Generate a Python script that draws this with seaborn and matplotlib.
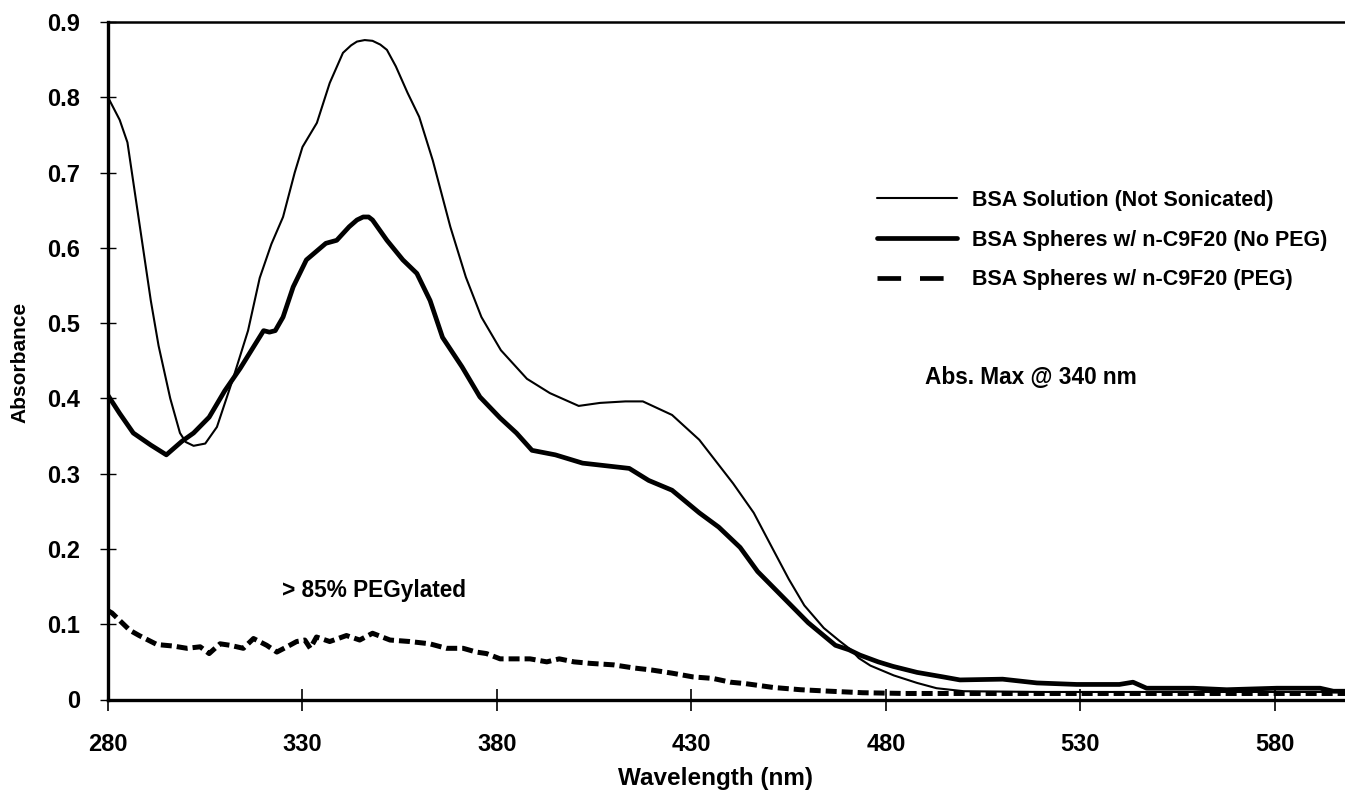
import matplotlib
matplotlib.use("Agg")
import matplotlib.pyplot as plt
from matplotlib.lines import Line2D
import seaborn as sns
import pandas as pd

# ---------------- data ----------------
wl_solution = [280, 283, 285, 287, 289, 291, 293, 296, 298.5, 300, 302, 305, 308, 312, 316, 319,
               322, 325, 328, 330, 333.7, 337, 340.4, 342.5, 344, 346, 348, 350, 351.7, 354, 357,
               360, 363.5, 368, 372, 376, 381, 387.7, 393.6, 401, 406.5, 413, 417.5, 425, 432,
               440.7, 446, 451, 455, 459, 464, 468, 471, 473, 476, 482, 488, 493, 500, 520, 540,
               560, 580, 598]
abs_solution = [0.80, 0.77, 0.74, 0.67, 0.60, 0.53, 0.47, 0.40, 0.354, 0.342, 0.337, 0.34, 0.362,
                0.424, 0.49, 0.56, 0.605, 0.641, 0.70, 0.734, 0.766, 0.819, 0.859, 0.869, 0.874,
                0.876, 0.875, 0.87, 0.863, 0.841, 0.806, 0.774, 0.716, 0.628, 0.561, 0.508, 0.464,
                0.426, 0.407, 0.39, 0.394, 0.396, 0.396, 0.378, 0.345, 0.287, 0.248, 0.199, 0.16,
                0.125, 0.095, 0.078, 0.066, 0.055, 0.045, 0.032, 0.022, 0.015, 0.011, 0.010,
                0.010, 0.010, 0.010, 0.010]

wl_nopeg = [280, 283, 286.5, 291, 295, 299, 302, 306, 310, 314, 317, 320, 321.5, 323, 325, 327.6,
            331, 336, 338.8, 342, 344, 345.6, 347, 348, 351.7, 355.8, 359.4, 362.8, 366, 371,
            375.6, 380.8, 385, 389, 395, 402, 414, 419, 425, 432, 437, 442.5, 447, 453.5, 460,
            467, 470.5, 473.3, 478, 481.8, 488, 494.7, 499, 510, 518.8, 529, 540, 543.5, 547,
            559, 567.6, 580.5, 591.6, 595, 598]
abs_nopeg = [0.404, 0.38, 0.354, 0.338, 0.325, 0.343, 0.354, 0.375, 0.41, 0.44, 0.465, 0.49,
             0.488, 0.49, 0.508, 0.548, 0.584, 0.606, 0.61, 0.628, 0.637, 0.641, 0.641, 0.637,
             0.61, 0.584, 0.566, 0.53, 0.481, 0.442, 0.402, 0.374, 0.354, 0.331, 0.325, 0.314,
             0.307, 0.291, 0.278, 0.248, 0.229, 0.202, 0.17, 0.136, 0.102, 0.072, 0.066, 0.059,
             0.05, 0.044, 0.036, 0.030, 0.026, 0.027, 0.022, 0.02, 0.02, 0.023, 0.015, 0.015,
             0.013, 0.015, 0.015, 0.011, 0.011]

wl_peg = [280, 281, 283, 285.6, 288, 292.6, 296.8, 300.3, 303.7, 306, 308.8, 311.4, 314.8, 317.4,
          320.8, 323.4, 326, 328.5, 330.6, 332, 333.6, 337, 341.3, 344.7, 348, 352.5, 357.6,
          362.7, 367, 371.3, 374.7, 377.3, 380.8, 384, 388.5, 392.8, 396, 399.8, 404, 410, 415,
          420, 425, 430.4, 435.5, 440, 444, 451, 458, 465.6, 474, 485, 500, 520, 540, 560, 580, 598]
abs_peg = [0.118, 0.115, 0.105, 0.092, 0.085, 0.073, 0.071, 0.068, 0.07, 0.061, 0.074, 0.072,
           0.068, 0.081, 0.072, 0.063, 0.07, 0.077, 0.079, 0.068, 0.083, 0.077, 0.085, 0.079,
           0.088, 0.079, 0.077, 0.074, 0.068, 0.068, 0.063, 0.061, 0.054, 0.054, 0.054, 0.05,
           0.054, 0.05, 0.048, 0.046, 0.042, 0.039, 0.035, 0.03, 0.028, 0.023, 0.021, 0.016,
           0.013, 0.011, 0.009, 0.008, 0.008, 0.008, 0.008, 0.008, 0.008, 0.008]

series_labels = ["BSA Solution (Not Sonicated)",
                 "BSA Spheres w/ n-C9F20 (No PEG)",
                 "BSA Spheres w/ n-C9F20 (PEG)"]

x_ticks = [280, 330, 380, 430, 480, 530, 580]
y_ticks = [0, 0.1, 0.2, 0.3, 0.4, 0.5, 0.6, 0.7, 0.8, 0.9]
y_tick_labels = ["0", "0.1", "0.2", "0.3", "0.4", "0.5", "0.6", "0.7", "0.8", "0.9"]

# ---------------- figure ----------------
sns.set_theme(style="white")
plt.rcParams["font.family"] = ["Liberation Sans", "DejaVu Sans"]
plt.rcParams["font.weight"] = "bold"
for key in ["text.color", "axes.labelcolor", "xtick.color", "ytick.color", "axes.edgecolor"]:
    plt.rcParams[key] = "black"

fig = plt.figure(figsize=(13.45, 7.93), dpi=100)
ax = fig.add_axes([108 / 1345, 1 - 699.5 / 793, 1 - 108 / 1345, (699.5 - 22) / 793])

df_sol = pd.DataFrame({"wl": wl_solution, "abs": abs_solution})
df_np = pd.DataFrame({"wl": wl_nopeg, "abs": abs_nopeg})
df_peg = pd.DataFrame({"wl": wl_peg, "abs": abs_peg})

sns.lineplot(data=df_sol, x="wl", y="abs", ax=ax, color="black", linewidth=1.5,
             sort=False, estimator=None)
sns.lineplot(data=df_np, x="wl", y="abs", ax=ax, color="black", linewidth=3.4,
             sort=False, estimator=None)
sns.lineplot(data=df_peg, x="wl", y="abs", ax=ax, color="black", linewidth=3.6,
             sort=False, estimator=None)
ax.lines[-1].set_dashes((2.2, 1.0))
for ln in ax.lines:
    ln.set_solid_joinstyle("round")

ax.set_xlim(280, 598)
ax.set_ylim(0, 0.9)
ax.set_xticks(x_ticks)
ax.set_yticks(y_ticks)
ax.set_yticklabels(y_tick_labels)
ax.tick_params(axis="x", direction="inout", length=16, width=1.2, colors="black",
               labelsize=17, pad=16, bottom=True)
ax.tick_params(axis="y", direction="inout", length=12, width=1.0, colors="black",
               labelsize=17, pad=14, left=True)
for lbl in ax.get_xticklabels() + ax.get_yticklabels():
    lbl.set_fontweight("bold")

for side in ["left", "bottom"]:
    ax.spines[side].set_linewidth(2.4)
    ax.spines[side].set_color("black")
ax.spines["top"].set_linewidth(1.8)
ax.spines["top"].set_color("black")
ax.spines["right"].set_visible(False)

ax.set_xlabel("Wavelength (nm)", fontsize=17.5, fontweight="bold", va="center")
ax.set_ylabel("Absorbance", fontsize=15, fontweight="bold", va="center")
ax.xaxis.set_label_coords((716 - 108) / (1345 - 108), -(778 - 699.5) / (699.5 - 22))
ax.yaxis.set_label_coords(-(108 - 20) / (1345 - 108), (699.5 - 362) / (699.5 - 22))

handles = [Line2D([], [], color="black", linewidth=1.5),
           Line2D([], [], color="black", linewidth=3.4),
           Line2D([], [], color="black", linewidth=3.4, dashes=(5.0, 4.0))]
leg = ax.legend(handles, series_labels, loc="upper left", frameon=False,
                bbox_to_anchor=(868 / 1345, 1 - 181 / 793), bbox_transform=fig.transFigure,
                prop={"size": 15.5, "weight": "bold"}, handlelength=3.75, handletextpad=0.7,
                labelspacing=0.88, borderaxespad=0)
for t in leg.get_texts():
    t.set_color("black")

fig.text(925 / 1345, 1 - 377 / 793, "Abs. Max @ 340 nm", fontsize=16.3,
         fontweight="bold", va="center", ha="left", color="black")
fig.text(282 / 1345, 1 - 590 / 793, "> 85% PEGylated", fontsize=16.3, fontweight="bold",
         va="center", ha="left", color="black")

fig.savefig("out.png", dpi=100, facecolor="white")
